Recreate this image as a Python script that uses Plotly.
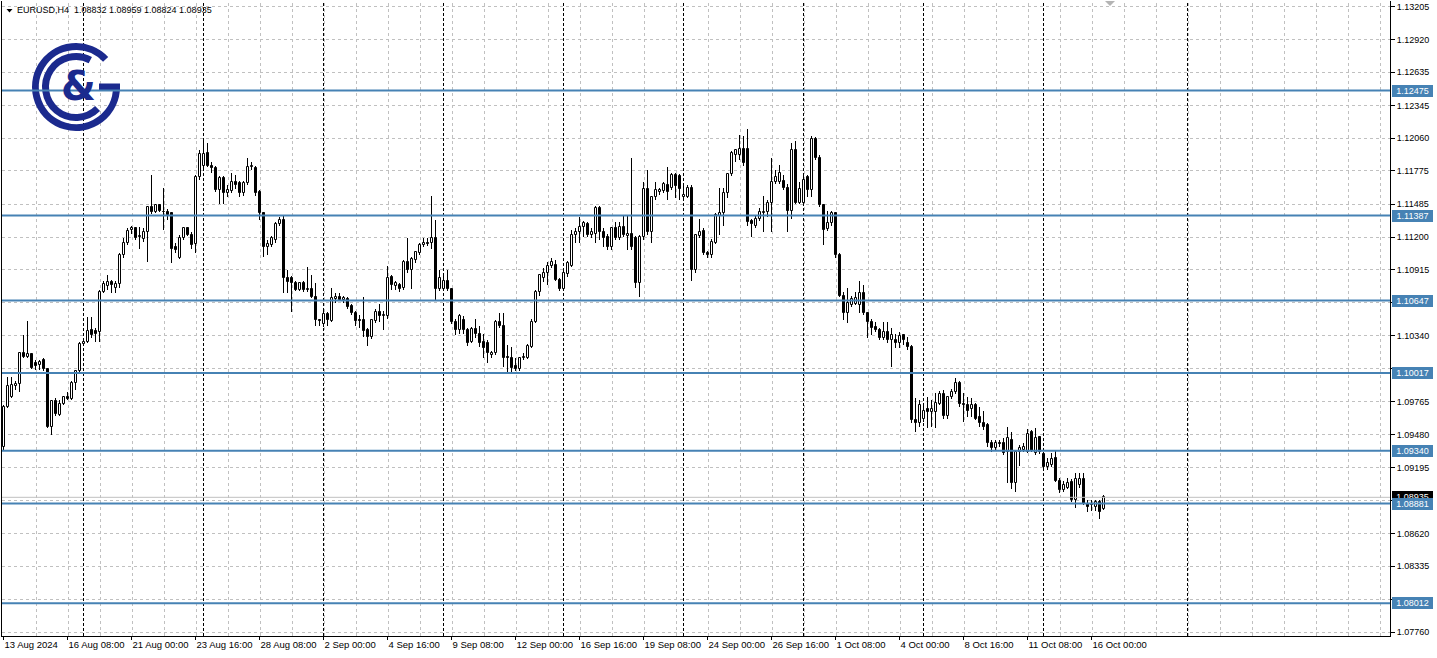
import base64
import numpy as np
import plotly.graph_objects as go

# ---------------- data (EURUSD H4) ----------------
opens = [
    1.0937, 1.0972, 1.0981, 1.0990, 1.0992, 1.1019, 1.1016, 1.1018, 1.1010, 1.1009,
    1.1013, 1.1005, 1.0955, 1.0977, 1.0965, 1.0975, 1.0981, 1.0979, 1.0993, 1.1003,
    1.1027, 1.1029, 1.1039, 1.1038, 1.1037, 1.1072, 1.1077, 1.1081, 1.1076, 1.1079,
    1.1104, 1.1115, 1.1126, 1.1128, 1.1120, 1.1118, 1.1124, 1.1146, 1.1142, 1.1148,
    1.1142, 1.1142, 1.1141, 1.1111, 1.1102, 1.1119, 1.1128, 1.1122, 1.1114, 1.1172,
    1.1182, 1.1193, 1.1182, 1.1180, 1.1161, 1.1171, 1.1158, 1.1160, 1.1168, 1.1167,
    1.1158, 1.1167, 1.1181, 1.1180, 1.1159, 1.1141, 1.1111, 1.1113, 1.1117, 1.1131,
    1.1135, 1.1084, 1.1084, 1.1080, 1.1074, 1.1080, 1.1074, 1.1075, 1.1068, 1.1048,
    1.1044, 1.1053, 1.1047, 1.1066, 1.1068, 1.1065, 1.1066, 1.1060, 1.1054, 1.1048,
    1.1048, 1.1039, 1.1033, 1.1047, 1.1055, 1.1051, 1.1051, 1.1085, 1.1077, 1.1078,
    1.1076, 1.1098, 1.1091, 1.1100, 1.1106, 1.1113, 1.1115, 1.1115, 1.1119, 1.1075,
    1.1075, 1.1082, 1.1075, 1.1046, 1.1039, 1.1048, 1.1039, 1.1029, 1.1040, 1.1036,
    1.1029, 1.1028, 1.1017, 1.1019, 1.1046, 1.1043, 1.1016, 1.1015, 1.1008, 1.1005,
    1.1015, 1.1015, 1.1024, 1.1046, 1.1072, 1.1084, 1.1089, 1.1095, 1.1096, 1.1083,
    1.1075, 1.1088, 1.1095, 1.1122, 1.1124, 1.1129, 1.1131, 1.1122, 1.1123, 1.1145,
    1.1124, 1.1120, 1.1111, 1.1128, 1.1119, 1.1129, 1.1121, 1.1123, 1.1119, 1.1080,
    1.1120, 1.1162, 1.1124, 1.1155, 1.1159, 1.1160, 1.1165, 1.1163, 1.1174, 1.1173,
    1.1155, 1.1155, 1.1163, 1.1091, 1.1121, 1.1125, 1.1106, 1.1104, 1.1115, 1.1138,
    1.1141, 1.1158, 1.1175, 1.1191, 1.1191, 1.1197, 1.1197, 1.1134, 1.1130, 1.1136,
    1.1141, 1.1142, 1.1150, 1.1168, 1.1168, 1.1169, 1.1163, 1.1143, 1.1196, 1.1150,
    1.1150, 1.1172, 1.1161, 1.1205, 1.1189, 1.1148, 1.1127, 1.1132, 1.1141, 1.1104,
    1.1069, 1.1054, 1.1061, 1.1062, 1.1061, 1.1071, 1.1054, 1.1046, 1.1042, 1.1039,
    1.1032, 1.1037, 1.1030, 1.1030, 1.1028, 1.1035, 1.1028, 1.1024, 1.0961, 1.0958,
    1.0962, 1.0970, 1.0968, 1.0968, 1.0975, 1.0983, 1.0964, 1.0981, 1.0985, 1.0993,
    1.0975, 1.0974, 1.0970, 1.0974, 1.0963, 1.0958, 1.0956, 1.0941, 1.0936, 1.0941,
    1.0941, 1.0933, 1.0943, 1.0906, 1.0933, 1.0935, 1.0933, 1.0950, 1.0932, 1.0946,
    1.0931, 1.0920, 1.0922, 1.0928, 1.0908, 1.0900, 1.0902, 1.0907, 1.0891, 1.0904,
    1.0909, 1.0888, 1.0887, 1.0885, 1.0889, 1.08832,
]
highs = [
    1.0974, 1.0998, 1.0998, 1.0995, 1.1020, 1.1035, 1.1047, 1.1019, 1.1013, 1.1013,
    1.1015, 1.1006, 1.0978, 1.0980, 1.0978, 1.0982, 1.0985, 1.0995, 1.1004, 1.1029,
    1.1030, 1.1050, 1.1050, 1.1041, 1.1074, 1.1082, 1.1087, 1.1083, 1.1082, 1.1106,
    1.1119, 1.1128, 1.1130, 1.1129, 1.1129, 1.1128, 1.1147, 1.1174, 1.1149, 1.1149,
    1.1163, 1.1144, 1.1142, 1.1115, 1.1122, 1.1129, 1.1129, 1.1124, 1.1174, 1.1196,
    1.1204, 1.1202, 1.1185, 1.1182, 1.1173, 1.1173, 1.1165, 1.1176, 1.1174, 1.1169,
    1.1169, 1.1189, 1.1185, 1.1182, 1.1161, 1.1142, 1.1117, 1.1121, 1.1133, 1.1137,
    1.1139, 1.1091, 1.1086, 1.1082, 1.1081, 1.1082, 1.1094, 1.1087, 1.1080, 1.1049,
    1.1056, 1.1055, 1.1076, 1.1071, 1.1071, 1.1069, 1.1068, 1.1062, 1.1056, 1.1052,
    1.1068, 1.1041, 1.1049, 1.1057, 1.1062, 1.1056, 1.1095, 1.1087, 1.1082, 1.1080,
    1.1100, 1.1119, 1.1103, 1.1108, 1.1115, 1.1119, 1.1119, 1.1156, 1.1135, 1.1091,
    1.1086, 1.1091, 1.1076, 1.1049, 1.1053, 1.1051, 1.1041, 1.1042, 1.1049, 1.1043,
    1.1036, 1.1030, 1.1021, 1.1048, 1.1054, 1.1054, 1.1026, 1.1024, 1.1015, 1.1016,
    1.1019, 1.1027, 1.1049, 1.1074, 1.1088, 1.1093, 1.1098, 1.1102, 1.1100, 1.1084,
    1.1091, 1.1099, 1.1126, 1.1128, 1.1137, 1.1134, 1.1133, 1.1128, 1.1147, 1.1147,
    1.1128, 1.1123, 1.1129, 1.1133, 1.1133, 1.1139, 1.1139, 1.1189, 1.1121, 1.1122,
    1.1168, 1.1178, 1.1156, 1.1168, 1.1163, 1.1168, 1.1181, 1.1176, 1.1176, 1.1175,
    1.1167, 1.1165, 1.1165, 1.1123, 1.1136, 1.1128, 1.1108, 1.1118, 1.1141, 1.1163,
    1.1163, 1.1176, 1.1195, 1.1197, 1.1209, 1.1208, 1.1214, 1.1136, 1.1138, 1.1145,
    1.1156, 1.1152, 1.1189, 1.1178, 1.1183, 1.1174, 1.1166, 1.1202, 1.1204, 1.1168,
    1.1173, 1.1174, 1.1208, 1.1207, 1.1191, 1.1149, 1.1143, 1.1143, 1.1142, 1.1106,
    1.1072, 1.1076, 1.1069, 1.1072, 1.1082, 1.1078, 1.1055, 1.1049, 1.1046, 1.1041,
    1.1046, 1.1046, 1.1041, 1.1036, 1.1037, 1.1036, 1.1033, 1.1026, 1.0980, 1.0978,
    1.0974, 1.0981, 1.0978, 1.0984, 1.0986, 1.0987, 1.0982, 1.0988, 1.0997, 1.0995,
    1.0984, 1.0981, 1.0980, 1.0976, 1.0972, 1.0969, 1.0958, 1.0943, 1.0943, 1.0943,
    1.0945, 1.0955, 1.0950, 1.0934, 1.0939, 1.0941, 1.0953, 1.0952, 1.0954, 1.0947,
    1.0933, 1.0928, 1.0932, 1.0935, 1.0910, 1.0908, 1.0910, 1.0909, 1.0915, 1.0915,
    1.0915, 1.0891, 1.0891, 1.0891, 1.0891, 1.08959,
]
lows = [
    1.0935, 1.0971, 1.0980, 1.0987, 1.0985, 1.1015, 1.1015, 1.1005, 1.1004, 1.1004,
    1.1003, 1.0954, 1.0948, 1.0964, 1.0964, 1.0974, 1.0978, 1.0978, 1.0987, 1.1001,
    1.1025, 1.1028, 1.1032, 1.1029, 1.1029, 1.1071, 1.1074, 1.1071, 1.1071, 1.1076,
    1.1102, 1.1113, 1.1123, 1.1117, 1.1110, 1.1116, 1.1098, 1.1140, 1.1141, 1.1142,
    1.1126, 1.1135, 1.1097, 1.1106, 1.1101, 1.1117, 1.1121, 1.1110, 1.1106, 1.1170,
    1.1180, 1.1181, 1.1176, 1.1159, 1.1149, 1.1149, 1.1155, 1.1158, 1.1162, 1.1155,
    1.1156, 1.1165, 1.1178, 1.1156, 1.1135, 1.1103, 1.1104, 1.1111, 1.1115, 1.1130,
    1.1071, 1.1071, 1.1055, 1.1073, 1.1073, 1.1072, 1.1072, 1.1067, 1.1043, 1.1043,
    1.1042, 1.1043, 1.1046, 1.1063, 1.1064, 1.1063, 1.1057, 1.1052, 1.1043, 1.1041,
    1.1033, 1.1025, 1.1031, 1.1045, 1.1046, 1.1039, 1.1049, 1.1074, 1.1074, 1.1072,
    1.1074, 1.1089, 1.1075, 1.1097, 1.1104, 1.1111, 1.1112, 1.1110, 1.1065, 1.1073,
    1.1074, 1.1073, 1.1044, 1.1035, 1.1036, 1.1036, 1.1025, 1.1028, 1.1032, 1.1024,
    1.1015, 1.1010, 1.1015, 1.1017, 1.1041, 1.1007, 1.1001, 1.1001, 1.1003, 1.1003,
    1.1013, 1.1014, 1.1023, 1.1045, 1.1069, 1.1081, 1.1078, 1.1093, 1.1082, 1.1073,
    1.1074, 1.1085, 1.1094, 1.1115, 1.1115, 1.1120, 1.1120, 1.1119, 1.1115, 1.1117,
    1.1111, 1.1109, 1.1109, 1.1117, 1.1117, 1.1120, 1.1109, 1.1109, 1.1076, 1.1068,
    1.1117, 1.1122, 1.1115, 1.1152, 1.1157, 1.1158, 1.1152, 1.1161, 1.1154, 1.1152,
    1.1154, 1.1154, 1.1082, 1.1089, 1.1119, 1.1104, 1.1102, 1.1102, 1.1114, 1.1122,
    1.1130, 1.1154, 1.1173, 1.1185, 1.1187, 1.1182, 1.1130, 1.1120, 1.1128, 1.1134,
    1.1124, 1.1137, 1.1124, 1.1166, 1.1166, 1.1161, 1.1124, 1.1136, 1.1149, 1.1149,
    1.1148, 1.1155, 1.1155, 1.1187, 1.1146, 1.1113, 1.1125, 1.1130, 1.1102, 1.1068,
    1.1048, 1.1045, 1.1059, 1.1061, 1.1054, 1.1052, 1.1032, 1.1035, 1.1037, 1.1030,
    1.1030, 1.1028, 1.1007, 1.1023, 1.1023, 1.1026, 1.1022, 1.0958, 1.0950, 1.0955,
    1.0959, 1.0954, 1.0955, 1.0954, 1.0974, 1.0962, 1.0962, 1.0979, 1.0983, 1.0972,
    1.0959, 1.0963, 1.0963, 1.0961, 1.0955, 1.0952, 1.0937, 1.0933, 1.0934, 1.0937,
    1.0930, 1.0906, 1.0901, 1.0898, 1.0921, 1.0933, 1.0932, 1.0933, 1.0930, 1.0931,
    1.0919, 1.0917, 1.0920, 1.0907, 1.0897, 1.0898, 1.0901, 1.0889, 1.0884, 1.0902,
    1.0887, 1.0881, 1.0882, 1.0882, 1.0875, 1.08824,
]
closes = [
    1.0972, 1.0990, 1.0991, 1.0992, 1.1019, 1.1016, 1.1018, 1.1006, 1.1008, 1.1011,
    1.1005, 1.0955, 1.0977, 1.0966, 1.0975, 1.0981, 1.0979, 1.0993, 1.1003, 1.1027,
    1.1029, 1.1038, 1.1035, 1.1036, 1.1072, 1.1079, 1.1081, 1.1078, 1.1079, 1.1104,
    1.1115, 1.1125, 1.1128, 1.1119, 1.1121, 1.1124, 1.1146, 1.1142, 1.1148, 1.1143,
    1.1142, 1.1139, 1.1110, 1.1109, 1.1119, 1.1128, 1.1122, 1.1113, 1.1172, 1.1192,
    1.1192, 1.1182, 1.1180, 1.1161, 1.1171, 1.1158, 1.1161, 1.1168, 1.1165, 1.1158,
    1.1167, 1.1181, 1.1182, 1.1158, 1.1141, 1.1111, 1.1114, 1.1119, 1.1131, 1.1135,
    1.1084, 1.1081, 1.1080, 1.1074, 1.1080, 1.1074, 1.1075, 1.1068, 1.1048, 1.1047,
    1.1053, 1.1048, 1.1067, 1.1068, 1.1065, 1.1067, 1.1059, 1.1054, 1.1047, 1.1047,
    1.1038, 1.1033, 1.1048, 1.1055, 1.1051, 1.1052, 1.1084, 1.1078, 1.1080, 1.1075,
    1.1098, 1.1091, 1.1101, 1.1107, 1.1113, 1.1115, 1.1114, 1.1119, 1.1075, 1.1084,
    1.1082, 1.1075, 1.1046, 1.1039, 1.1051, 1.1039, 1.1028, 1.1040, 1.1036, 1.1028,
    1.1023, 1.1019, 1.1019, 1.1046, 1.1043, 1.1015, 1.1015, 1.1006, 1.1005, 1.1015,
    1.1016, 1.1025, 1.1046, 1.1072, 1.1087, 1.1089, 1.1095, 1.1098, 1.1083, 1.1075,
    1.1089, 1.1097, 1.1122, 1.1124, 1.1129, 1.1132, 1.1122, 1.1124, 1.1145, 1.1124,
    1.1119, 1.1111, 1.1128, 1.1119, 1.1129, 1.1122, 1.1123, 1.1111, 1.1080, 1.1120,
    1.1162, 1.1124, 1.1155, 1.1161, 1.1161, 1.1166, 1.1159, 1.1174, 1.1164, 1.1162,
    1.1157, 1.1163, 1.1091, 1.1122, 1.1124, 1.1106, 1.1104, 1.1116, 1.1139, 1.1141,
    1.1158, 1.1175, 1.1193, 1.1196, 1.1197, 1.1184, 1.1133, 1.1131, 1.1136, 1.1142,
    1.1142, 1.1150, 1.1168, 1.1172, 1.1176, 1.1163, 1.1143, 1.1196, 1.1150, 1.1162,
    1.1170, 1.1161, 1.1205, 1.1189, 1.1148, 1.1126, 1.1132, 1.1141, 1.1104, 1.1069,
    1.1054, 1.1063, 1.1066, 1.1067, 1.1071, 1.1054, 1.1046, 1.1041, 1.1039, 1.1032,
    1.1037, 1.1030, 1.1035, 1.1028, 1.1034, 1.1030, 1.1024, 1.0961, 1.0958, 1.0974,
    1.0969, 1.0968, 1.0970, 1.0976, 1.0983, 1.0964, 1.0981, 1.0985, 1.0993, 1.0975,
    1.0974, 1.0969, 1.0974, 1.0962, 1.0958, 1.0955, 1.0941, 1.0936, 1.0941, 1.0940,
    1.0932, 1.0945, 1.0906, 1.0933, 1.0936, 1.0937, 1.0949, 1.0934, 1.0945, 1.0933,
    1.0920, 1.0923, 1.0927, 1.0908, 1.0900, 1.0904, 1.0906, 1.0891, 1.0909, 1.0909,
    1.0888, 1.0885, 1.0888, 1.0889, 1.0881, 1.08935,
]

label_bars = [0, 16, 32, 48, 64, 80, 96, 112, 128, 144, 160, 176, 192, 208, 224, 240, 256, 272]
label_text = ["13 Aug 2024", "16 Aug 08:00", "21 Aug 00:00", "23 Aug 16:00", "28 Aug 08:00",
              "2 Sep 00:00", "4 Sep 16:00", "9 Sep 08:00", "12 Sep 00:00", "16 Sep 16:00",
              "19 Sep 08:00", "24 Sep 00:00", "26 Sep 16:00", "1 Oct 08:00", "4 Oct 00:00",
              "8 Oct 16:00", "11 Oct 08:00", "16 Oct 00:00"]

grid_prices = [1.13205, 1.12920, 1.12635, 1.12345, 1.12060, 1.11775, 1.11485, 1.11200,
               1.10915, 1.10630, 1.10340, 1.10055, 1.09765, 1.09480, 1.09195, 1.08905,
               1.08620, 1.08335, 1.08045, 1.07760]
# labels hidden behind the level boxes in the reference are left blank
grid_labels = ["1.13205", "1.12920", "1.12635", "1.12345", "1.12060", "1.11775", "1.11485",
               "1.11200", "1.10915", "", "1.10340", "", "1.09765", "1.09480",
               "1.09195", "", "1.08620", "1.08335", "", "1.07760"]

level_prices = [1.12475, 1.11387, 1.10647, 1.10017, 1.09340, 1.08881, 1.08012]
level_labels = ["1.12475", "1.11387", "1.10647", "1.10017", "1.09340", "1.08881", "1.08012"]

bid_price = 1.08935
bid_label = "1.08935"
week_bars = [20, 50, 80, 110, 140, 170, 200, 230, 260, 296]
header_text = "EURUSD,H4  1.08832 1.08959 1.08824 1.08935"

# ---------------- geometry / style ----------------
W, H = 1437, 658
ML, MR, MT, MB = 2, 47, 1, 22
PW, PH = W - ML - MR, H - MT - MB
BAR_PX = 4
X0 = -0.375
X1 = X0 + PW / BAR_PX
Y_TOP, Y_BOT = 1.13254, 1.07728
FONT = "Liberation Sans"
NAVY = "#1b2a8e"
BLUE = "#4682b4"
GRID = "#c0c0c0"


def px_x(px):
    return (px - ML) / PW


def px_y(py):
    return 1 - (py - MT) / PH


o = np.array(opens)
h = np.array(highs)
l = np.array(lows)
c = np.array(closes)
idx = np.arange(len(o))
top = np.maximum.reduce([h, o, c])
bot = np.minimum.reduce([l, o, c])
body_lo = np.minimum(o, c)
body_h = np.abs(c - o)
body_col = np.where(c >= o, "white", "black")

fig = go.Figure()
fig.add_trace(go.Bar(x=idx, y=top - bot, base=bot, width=0.25,
                     marker=dict(color="black", line=dict(width=0)),
                     hoverinfo="skip", showlegend=False))
fig.add_trace(go.Bar(x=idx, y=body_h, base=body_lo, width=0.5,
                     marker=dict(color=list(body_col), line=dict(color="black", width=1)),
                     hoverinfo="skip", showlegend=False))

shapes = []
k = 1
while 8 * k + 0.25 < X1:
    shapes.append(dict(type="line", xref="x", yref="paper", x0=8 * k + 0.25, x1=8 * k + 0.25,
                       y0=0, y1=1, layer="below",
                       line=dict(color=GRID, width=1, dash="3px,3px")))
    k += 1
for wb in week_bars:
    shapes.append(dict(type="line", xref="x", yref="paper", x0=wb, x1=wb, y0=0, y1=1,
                       layer="below", line=dict(color="black", width=1, dash="3px,2px")))
shapes.append(dict(type="line", xref="paper", yref="y", x0=0, x1=1, y0=bid_price, y1=bid_price,
                   layer="above", line=dict(color=GRID, width=1)))
for lp in level_prices:
    shapes.append(dict(type="line", xref="paper", yref="y", x0=0, x1=1, y0=lp, y1=lp,
                       layer="above", line=dict(color=BLUE, width=2)))
shapes.append(dict(type="path", xref="paper", yref="paper",
                   path="M {:.5f} {:.5f} L {:.5f} {:.5f} L {:.5f} {:.5f} Z".format(
                       px_x(6.5), px_y(9), px_x(12.5), px_y(9), px_x(9.5), px_y(12.5)),
                   fillcolor="black", line=dict(width=0), layer="above"))
shapes.append(dict(type="path", xref="paper", yref="paper",
                   path="M {:.5f} {:.5f} L {:.5f} {:.5f} L {:.5f} {:.5f} Z".format(
                       px_x(1105), px_y(1), px_x(1115), px_y(1), px_x(1110), px_y(6)),
                   fillcolor="#b4b4b4", line=dict(width=0), layer="above"))

annotations = []
annotations.append(dict(text=header_text, xref="paper", yref="paper", x=px_x(15),
                        y=px_y(10.5), xanchor="left", yanchor="middle", showarrow=False,
                        font=dict(family=FONT, size=9, color="black")))
annotations.append(dict(text="&", xref="paper", yref="paper", x=px_x(78), y=px_y(86),
                        xanchor="center", yanchor="middle", showarrow=False,
                        font=dict(family="DejaVu Sans", size=40, color=NAVY, weight="bold")))
annotations.append(dict(text=bid_label, xref="paper", yref="y", x=1, y=bid_price,
                        xanchor="left", yanchor="middle", xshift=2, showarrow=False,
                        bgcolor="black", borderwidth=0, borderpad=1, width=39, height=10,
                        font=dict(family=FONT, size=9, color="white")))
for lp, lt in zip(level_prices, level_labels):
    annotations.append(dict(text=lt, xref="paper", yref="y", x=1, y=lp,
                            xanchor="left", yanchor="middle", xshift=2, showarrow=False,
                            bgcolor=BLUE, borderwidth=0, borderpad=1, width=39, height=10,
                            font=dict(family=FONT, size=9, color="white")))

svg = (
    '<svg xmlns="http://www.w3.org/2000/svg" width="94" height="94" viewBox="0 0 94 94">'
    '<g fill="none" stroke="%s" stroke-width="7">'
    '<path d="M 76.62 19.38 A 40.5 40.5 0 1 0 87.5 47"/>'
    '<path d="M 61.32 20.07 A 30.5 30.5 0 1 0 68.57 68.57"/>'
    '</g><rect x="70" y="43.5" width="21" height="7" fill="%s"/></svg>'
) % (NAVY, NAVY)
logo_src = "data:image/svg+xml;base64," + base64.b64encode(svg.encode()).decode()

fig.update_layout(
    width=W, height=H,
    margin=dict(l=ML, r=MR, t=MT, b=MB, pad=0, autoexpand=False),
    paper_bgcolor="white", plot_bgcolor="white",
    barmode="overlay", bargap=0, bargroupgap=0,
    showlegend=False,
    shapes=shapes,
    annotations=annotations,
    images=[dict(source=logo_src, xref="paper", yref="paper", x=px_x(29), y=px_y(40),
                 sizex=94 / PW, sizey=94 / PH, xanchor="left", yanchor="top",
                 sizing="stretch", layer="above")],
    xaxis=dict(range=[X0, X1], tickvals=label_bars, ticktext=label_text,
               showgrid=False, zeroline=False, ticks="outside", ticklen=3,
               tickcolor="black", showline=True, linecolor="black", linewidth=1,
               ticklabelposition="outside right", tickangle=0, automargin=False,
               tickfont=dict(family=FONT, size=9.5, color="black"), fixedrange=True),
    yaxis=dict(range=[Y_BOT, Y_TOP], side="right", tickvals=grid_prices, ticktext=grid_labels,
               showgrid=True, gridcolor=GRID, griddash="3px,3px", gridwidth=1,
               zeroline=False, ticks="outside", ticklen=4, tickcolor="black",
               showline=True, linecolor="black", linewidth=1, mirror=True, automargin=False,
               tickfont=dict(family=FONT, size=9, color="black"), fixedrange=True),
    hovermode=False,
)

fig.write_html("out.html", config={"displayModeBar": False},
               post_script="document.body.style.margin='0';document.body.style.overflow='hidden';")
